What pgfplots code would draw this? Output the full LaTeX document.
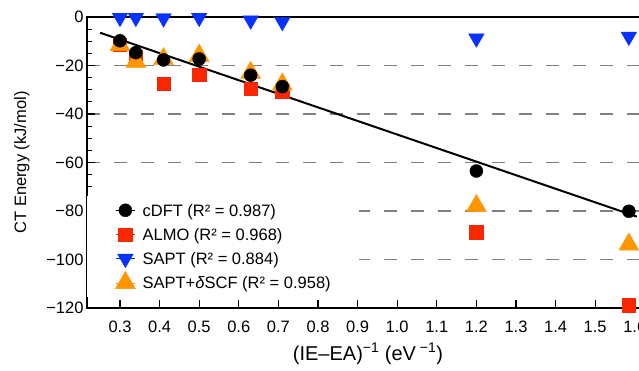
\documentclass[border=0pt]{standalone}
\usepackage{fontspec}
\setmainfont{Liberation Sans}
\usepackage{pgfplots}
\usepackage{pgfplotstable}
\pgfplotsset{compat=1.18}
\definecolor{cred}{RGB}{250,40,0}
\definecolor{cblue}{RGB}{10,50,255}
\definecolor{corange}{RGB}{255,150,0}
\newcommand{\fs}{\fontsize{16.5}{19.8}\selectfont}

\pgfplotstableread{
x cdft almo sapt scf
0.30 -9.8 -11.4 -0.3 -11.5
0.34 -14.7 -16.5 -0.3 -18.4
0.41 -17.7 -27.5 -0.5 -17.3
0.50 -17.3 -23.8 -0.3 -15.9
0.63 -24.0 -29.6 -1.4 -23.0
0.71 -28.7 -30.6 -2.0 -27.8
1.20 -63.5 -88.8 -8.8 -77.9
1.585 -80.1 -118.8 -8.1 -93.8
}\data

\begin{document}
\begin{tikzpicture}
\begin{axis}[
  at={(0,0)}, anchor=south west,
  scale only axis, width=562pt, height=291pt,
  xmin=0.2167, xmax=1.6359, ymin=-120, ymax=0,
  xtick={0.3,0.4,0.5,0.6,0.7,0.8,0.9,1.0,1.1,1.2,1.3,1.4,1.5,1.6},
  xticklabels={0.3,0.4,0.5,0.6,0.7,0.8,0.9,1.0,1.1,1.2,1.3,1.4,1.5,1.6},
  ytick={-120,-100,-80,-60,-40,-20,0},
  yticklabels={−120,−100,−80,−60,−40,−20,0},
  minor y tick num=3,
  xtick pos=left, ytick pos=left,
  tick align=inside,
  major tick length=8pt, minor tick length=5pt,
  tick style={black, line width=1.1pt},
  axis line style={line width=1.7pt},
  ticklabel style={font=\fs},
  xticklabel style={yshift=-9.5pt},
  ymajorgrids,
  grid style={dash pattern=on 13pt off 14pt, gray, line width=1.3pt},
  xlabel={(IE–EA)\textsuperscript{−1} (eV\textsuperscript{ −1})},
  ylabel={CT Energy (kJ/mol)},
  xlabel style={font=\fontsize{20}{24}\selectfont, at={(axis description cs:0.5,-0.158)}, anchor=center},
  ylabel style={font=\fs, at={(axis description cs:-0.1157,0.5)}, anchor=center, rotate=0},
  legend image code/.code={\path (-9.5pt,0pt) -- (9.5pt,0pt); \draw[#1,overlay] plot coordinates {(0pt,0pt)};},
  legend style={at={(0,0.385)}, anchor=north west, draw=none, fill=white,
    inner xsep=28.5pt, inner ysep=6pt, row sep=8pt, column sep=7.5pt, font=\fs,
    cells={anchor=west},
    nodes={anchor=west, inner sep=0pt, text height=14pt, text depth=2.2pt}},
  legend cell align=left,
]
\addlegendimage{only marks, mark=*, mark size=6.5pt, black}
\addlegendimage{only marks, mark=square*, mark size=6.7pt, cred}
\addlegendimage{only marks, mark=triangle*, mark size=9pt, cblue, mark options={rotate=180}}
\addlegendimage{only marks, mark=triangle*, mark size=11.5pt, corange}
\addlegendentry{cDFT (R² = 0.987)}
\addlegendentry{ALMO (R² = 0.968)}
\addlegendentry{SAPT (R² = 0.884)}
\addlegendentry{SAPT+\textit{δ}SCF (R² = 0.958)}

\addplot[black, line width=2pt, forget plot] coordinates {(0.25,-6.5) (1.605,-82.3)};
\addplot[only marks, mark=square*, mark size=6.7pt, cred, forget plot] table[x=x, y=almo] {\data};
\addplot[only marks, mark=triangle*, mark size=9pt, cblue, mark options={rotate=180}, forget plot] table[x=x, y=sapt] {\data};
\addplot[only marks, mark=triangle*, mark size=11.5pt, corange, forget plot] table[x=x, y=scf] {\data};
\addplot[only marks, mark=*, mark size=6.5pt, black, forget plot] table[x=x, y=cdft] {\data};
\end{axis}
\pgfresetboundingbox
\path[use as bounding box] (-87pt,-62pt) rectangle (552pt,308pt);
\end{tikzpicture}
\end{document}
